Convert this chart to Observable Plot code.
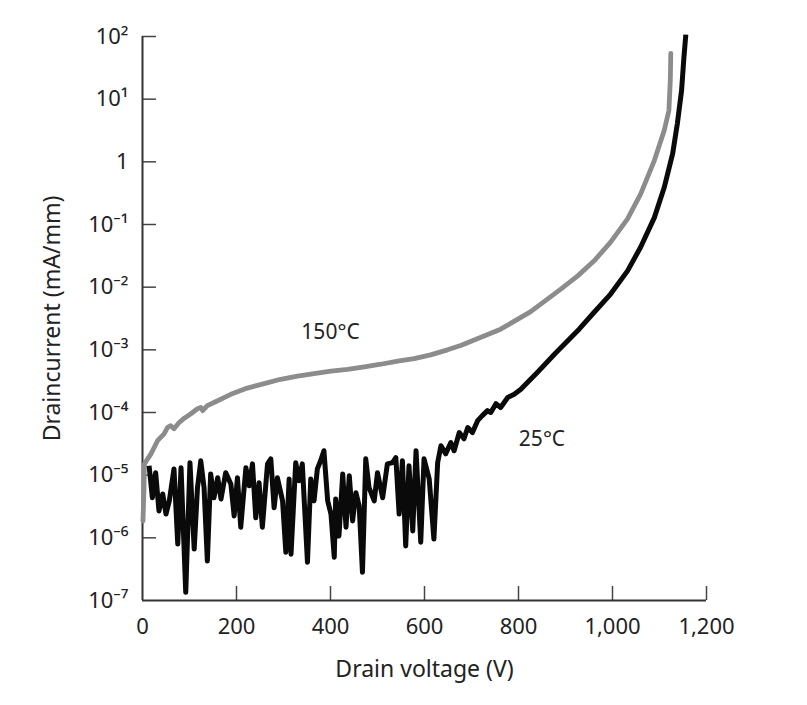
<!DOCTYPE html>
<html>
<head>
<meta charset="utf-8">
<script src="https://cdn.jsdelivr.net/npm/d3@7"></script>
<script src="https://cdn.jsdelivr.net/npm/@observablehq/plot@0.6"></script>
<style>
  html, body { margin: 0; padding: 0; background: #fff; }
  #chart { width: 807px; height: 705px; }
</style>
</head>
<body>
<div id="chart"></div>
<script>
// 150 °C curve: drain voltage (V) and log10 of drain current (mA/mm)
const voltage150 = [1, 3, 4, 18, 32, 46, 53, 60, 67, 78, 89, 103, 117, 124, 128, 138, 152, 188, 223, 259, 294, 330, 365, 401, 436, 472, 507, 543, 578, 613, 649, 677, 762, 826, 890, 926, 961, 996, 1032, 1060, 1089, 1110, 1120, 1123, 1124];
const logCurrent150 = [-5.73, -5.25, -4.82, -4.66, -4.45, -4.34, -4.24, -4.21, -4.26, -4.16, -4.09, -4.02, -3.94, -3.92, -3.97, -3.89, -3.84, -3.71, -3.61, -3.54, -3.47, -3.42, -3.38, -3.34, -3.31, -3.27, -3.23, -3.18, -3.14, -3.08, -3.00, -2.93, -2.67, -2.39, -2.03, -1.82, -1.58, -1.28, -0.91, -0.51, 0.02, 0.50, 0.82, 1.30, 1.73];

// 25 °C curve
const voltage25 = [14, 21, 28, 35, 43, 50, 57, 67, 75, 82, 92, 101, 110, 117, 124, 131, 138, 145, 152, 160, 167, 177, 188, 195, 202, 209, 220, 227, 234, 241, 248, 255, 266, 273, 280, 287, 298, 305, 312, 316, 326, 333, 340, 351, 358, 365, 372, 379, 386, 394, 401, 408, 411, 418, 426, 433, 440, 447, 454, 461, 468, 475, 482, 493, 500, 511, 521, 532, 539, 546, 553, 560, 567, 575, 582, 592, 599, 610, 620, 628, 635, 645, 656, 663, 674, 684, 692, 702, 713, 723, 734, 741, 752, 762, 777, 791, 805, 819, 840, 879, 929, 961, 996, 1032, 1060, 1089, 1110, 1128, 1138, 1147, 1152, 1156];
const logCurrent25 = [-4.85, -5.36, -4.96, -5.57, -5.30, -5.62, -5.41, -4.90, -6.10, -4.88, -6.87, -4.80, -6.18, -5.20, -4.77, -5.20, -6.37, -4.98, -5.36, -5.04, -5.38, -4.96, -5.14, -5.65, -5.04, -5.83, -4.88, -5.17, -4.82, -5.68, -5.12, -5.83, -4.82, -4.74, -5.52, -5.04, -5.41, -6.23, -5.06, -6.26, -4.80, -5.09, -4.82, -6.39, -5.06, -5.41, -4.90, -4.77, -4.61, -5.41, -5.62, -6.31, -5.38, -5.97, -4.98, -5.83, -5.01, -5.73, -5.28, -5.49, -6.55, -4.74, -5.20, -5.41, -4.96, -5.36, -4.82, -4.80, -4.72, -5.62, -4.77, -6.13, -4.85, -5.89, -4.61, -6.07, -4.74, -5.06, -6.02, -4.80, -4.53, -4.66, -4.48, -4.61, -4.32, -4.42, -4.24, -4.32, -4.13, -4.05, -3.97, -4.00, -3.86, -3.92, -3.76, -3.71, -3.63, -3.52, -3.36, -3.05, -2.67, -2.40, -2.11, -1.74, -1.36, -0.89, -0.41, 0.13, 0.61, 1.14, 1.67, 2.03];

// Axis ticks
const xTicks = [0, 200, 400, 600, 800, 1000, 1200];
const xTickLabels = ["0", "200", "400", "600", "800", "1,000", "1,200"];
const yTicks = [1e-7, 1e-6, 1e-5, 1e-4, 1e-3, 1e-2, 1e-1, 1, 1e1, 1e2];
const yTickLabels = ["10\u207B\u2077", "10\u207B\u2076", "10\u207B\u2075", "10\u207B\u2074", "10\u207B\u00B3", "10\u207B\u00B2", "10\u207B\u00B9", "1", "10\u00B9", "10\u00B2"];

// Curve labels
const curveLabels = [
  {text: "150°C", voltage: 400, current: 1.9e-3},
  {text: "25°C", voltage: 850, current: 3.8e-5}
];

const xLabel = "Drain voltage (V)";
const yLabel = "Draincurrent (mA/mm)";

const data150 = voltage150.map((v, i) => ({v, c: Math.pow(10, logCurrent150[i])}));
const data25 = voltage25.map((v, i) => ({v, c: Math.pow(10, logCurrent25[i])}));

const W = 807, H = 705;
const mL = 142, mR = 101, mT = 36, mB = 105;
const frameW = W - mL - mR, frameH = H - mT - mB;
const tickLen = 14;
const axisColor = "#333";

const chart = Plot.plot({
  width: W,
  height: H,
  marginLeft: mL,
  marginRight: mR,
  marginTop: mT,
  marginBottom: mB,
  style: {fontFamily: "'Noto Sans', sans-serif", fontSize: "22px", color: "#222", background: "#fff"},
  x: {domain: [0, 1200]},
  y: {type: "log", domain: [1e-7, 1e2]},
  marks: [
    Plot.axisX({ticks: xTicks, tickFormat: d => xTickLabels[xTicks.indexOf(d)], tickSize: 0, tickPadding: 18, label: null, fontSize: 22, fill: "#222"}),
    Plot.axisY({ticks: yTicks, tickFormat: d => yTickLabels[yTicks.findIndex(t => Math.abs(Math.log10(t) - Math.log10(d)) < 1e-6)], tickSize: 0, tickPadding: 14, label: null, fontSize: 22, fill: "#222"}),
    Plot.tickX(xTicks.slice(1), {x: d => d, insetTop: frameH - tickLen, stroke: "#444", strokeWidth: 1.5}),
    Plot.tickY(yTicks.slice(1), {y: d => d, insetRight: frameW - tickLen, stroke: "#444", strokeWidth: 1.5}),
    Plot.ruleX([0], {stroke: axisColor, strokeWidth: 2}),
    Plot.ruleY([1e-7], {stroke: axisColor, strokeWidth: 2}),
    Plot.line(data150, {x: "v", y: "c", stroke: "#8c8c8c", strokeWidth: 4.8, strokeLinejoin: "round", strokeLinecap: "round"}),
    Plot.line(data25, {x: "v", y: "c", stroke: "#0a0a0a", strokeWidth: 5, strokeLinejoin: "round", strokeLinecap: "butt"}),
    Plot.text(curveLabels, {x: "voltage", y: "current", text: "text", fontSize: 21, fill: "#222"}),
    Plot.text([yLabel], {frameAnchor: "left", textAnchor: "middle", rotate: -90, dx: -90, fontSize: 23, fill: "#222"}),
    Plot.text([xLabel], {frameAnchor: "bottom", textAnchor: "middle", dy: 76, fontSize: 23, fill: "#222"})
  ]
});

document.getElementById("chart").appendChild(chart);
</script>
</body>
</html>
